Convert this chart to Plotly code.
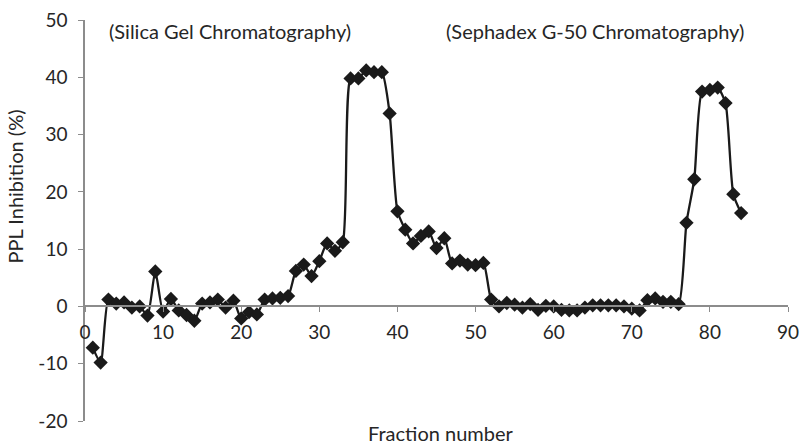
import plotly.graph_objects as go

fraction = list(range(1, 85))
inhibition = [
    -7.2, -9.8, 1.2, 0.5, 0.7, -0.2, 0.0, -1.6, 6.1, -0.9,
    1.3, -0.7, -1.5, -2.5, 0.5, 0.7, 1.2, -0.2, 1.0, -2.1,
    -1.0, -1.4, 1.2, 1.4, 1.5, 1.8, 6.2, 7.3, 5.3, 7.9,
    11.0, 9.7, 11.2, 39.8, 39.8, 41.2, 40.9, 40.9, 33.7, 16.6,
    13.4, 11.0, 12.3, 13.1, 10.2, 11.9, 7.5, 8.0, 7.3, 7.2,
    7.6, 1.2, 0.0, 0.6, 0.3, -0.2, 0.4, -0.6, 0.1, 0.0,
    -0.6, -0.7, -0.7, -0.2, 0.2, 0.2, 0.2, 0.2, 0.0, -0.4,
    -0.7, 1.1, 1.4, 0.8, 0.8, 0.4, 14.6, 22.2, 37.5, 37.8,
    38.2, 35.5, 19.6, 16.3,
]
x_ticks = [0, 10, 20, 30, 40, 50, 60, 70, 80, 90]
y_ticks = [-20, -10, 0, 10, 20, 30, 40, 50]
y_ticktext = ["-20", "-10", "0", "10", "20", "30", "40", "50"]
labels = ["(Silica Gel Chromatography)", "(Sephadex G-50 Chromatography)"]
label_x = [18.6, 65.3]

FONT = "Lato"
FS = 19
FT = 20
TXT = "#262626"
AX = "#8c8c8c"

fig = go.Figure()
fig.add_trace(go.Scatter(
    x=fraction, y=inhibition, mode="lines+markers",
    line=dict(color="#1a1a1a", width=2.3, shape="spline", smoothing=0.6),
    marker=dict(symbol="diamond", size=11, color="#1a1a1a"),
    showlegend=False, hoverinfo="x+y",
))

for t, xv in zip(labels, label_x):
    fig.add_annotation(x=xv, y=48.1, text=t, showarrow=False, xref="x", yref="y",
                       font=dict(family=FONT, size=FT, color=TXT))

fig.add_annotation(x=0.506, y=-0.029, xref="paper", yref="paper", text="Fraction number",
                   showarrow=False, yanchor="middle",
                   font=dict(family=FONT, size=FT, color=TXT))
fig.add_annotation(x=-0.1, y=0.584, xref="paper", yref="paper", text="PPL Inhibition (%)",
                   showarrow=False, textangle=-90, xanchor="center", yanchor="middle",
                   font=dict(family=FONT, size=FT, color=TXT))

fig.update_layout(
    width=807, height=445,
    margin=dict(l=85, r=8, t=20, b=24),
    plot_bgcolor="white", paper_bgcolor="white",
    font=dict(family=FONT, size=FS, color=TXT),
    xaxis=dict(range=[0, 90], tickvals=x_ticks, showgrid=False, zeroline=False,
               showline=True, linecolor=AX, linewidth=1.5, ticks="outside",
               tickcolor=AX, ticklen=5, anchor="free", position=20 / 70,
               ticklabelstandoff=4, ticklabeloverflow="allow",
               tickfont=dict(family=FONT, size=FS, color=TXT)),
    yaxis=dict(range=[-20, 50], tickvals=y_ticks, ticktext=y_ticktext,
               showgrid=False, zeroline=False,
               showline=True, linecolor=AX, linewidth=1.5, ticks="outside",
               tickcolor=AX, ticklen=5, ticklabelstandoff=7,
               ticklabeloverflow="allow",
               tickfont=dict(family=FONT, size=FS, color=TXT)),
)

fig.write_html("out.html", config={"displayModeBar": False},
               post_script="document.body.style.margin='0px';")
